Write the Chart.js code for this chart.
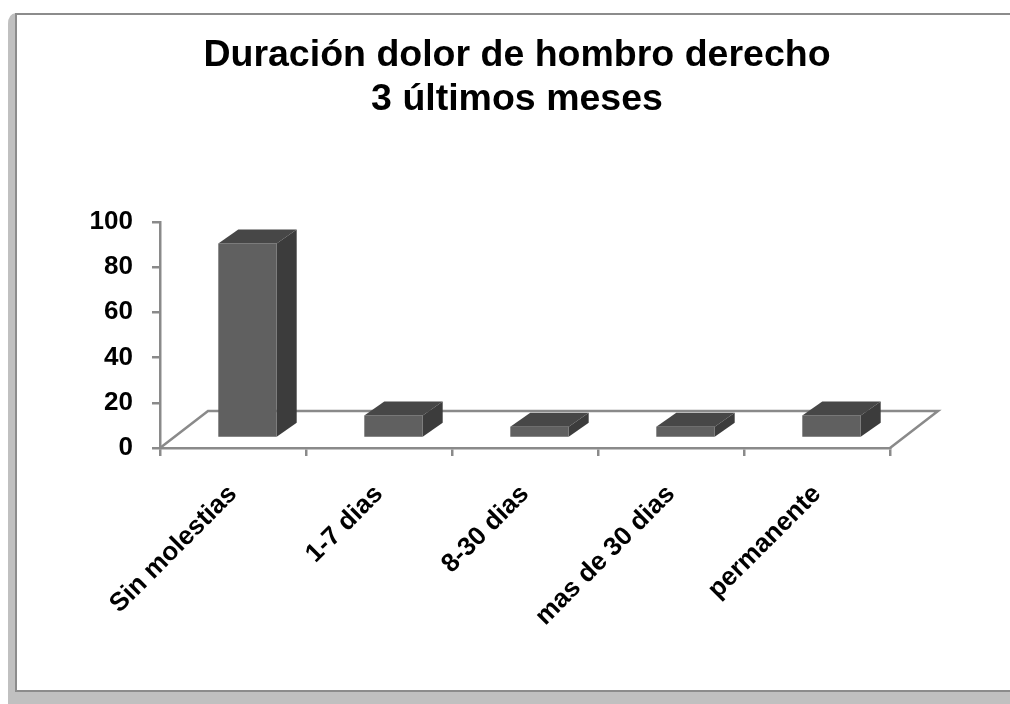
<!DOCTYPE html>
<html>
<head>
<meta charset="utf-8">
<script src="https://cdn.jsdelivr.net/npm/chart.js@4.4.1/dist/chart.umd.min.js"></script>
<style>
  html, body { margin: 0; padding: 0; background: #ffffff; }
  #wrap { width: 1010px; height: 704px; position: relative; }
</style>
</head>
<body>
<div id="wrap"><canvas id="c" width="1010" height="704"></canvas></div>
<script>
const categories = ['Sin molestias', '1-7 dias', '8-30 dias', 'mas de 30 dias', 'permanente'];
const values = [86, 10, 5, 5, 10];
const yTicks = [0, 20, 40, 60, 80, 100];
const titleLines = ['Duración dolor de hombro derecho', '3 últimos meses'];

const FONT = "'Liberation Sans', Arial, sans-serif";
const AXIS_GRAY = '#8a8a8a';

const framePlugin = {
  id: 'frame',
  beforeDraw(chart) {
    const ctx = chart.ctx;
    ctx.save();
    ctx.fillStyle = '#ffffff';
    ctx.fillRect(0, 0, 1010, 704);
    ctx.fillStyle = '#c0c0c0';
    ctx.beginPath();
    ctx.moveTo(8, 24);
    ctx.quadraticCurveTo(8, 14, 16, 13);
    ctx.lineTo(1010, 13);
    ctx.lineTo(1010, 704);
    ctx.lineTo(8, 704);
    ctx.closePath();
    ctx.fill();
    ctx.fillStyle = '#8c8c8c';
    ctx.fillRect(15, 13, 995, 679);
    ctx.fillStyle = '#ffffff';
    ctx.fillRect(17, 15, 993, 675);
    ctx.restore();
  }
};

const bar3dPlugin = {
  id: 'bar3d',
  beforeDatasetsDraw(chart) {
    const ctx = chart.ctx;
    const xs = chart.scales.x, ys = chart.scales.y;
    const y0 = ys.getPixelForValue(0);
    const dx = 48, dy = -37;
    ctx.save();
    ctx.strokeStyle = AXIS_GRAY;
    ctx.lineWidth = 2.5;
    ctx.beginPath();
    ctx.moveTo(xs.left, y0);
    ctx.lineTo(xs.left + dx, y0 + dy);
    ctx.lineTo(xs.right + dx, y0 + dy);
    ctx.lineTo(xs.right, y0);
    ctx.stroke();
    ctx.restore();
  },
  afterDatasetsDraw(chart) {
    const ctx = chart.ctx;
    const meta = chart.getDatasetMeta(0);
    const sx = 14.5, sy = -10;
    const dx = 20, dy = -14;
    ctx.save();
    meta.data.forEach(bar => {
      const p = bar.getProps(['x', 'y', 'base', 'width'], true);
      const l = p.x - p.width / 2 + sx, r = p.x + p.width / 2 + sx;
      const t = p.y + sy, b = p.base + sy;
      ctx.fillStyle = '#474747';
      ctx.beginPath();
      ctx.moveTo(l, t); ctx.lineTo(l + dx, t + dy); ctx.lineTo(r + dx, t + dy); ctx.lineTo(r, t);
      ctx.closePath(); ctx.fill();
      ctx.fillStyle = '#3c3c3c';
      ctx.beginPath();
      ctx.moveTo(r, t); ctx.lineTo(r + dx, t + dy); ctx.lineTo(r + dx, b + dy); ctx.lineTo(r, b);
      ctx.closePath(); ctx.fill();
      ctx.fillStyle = '#606060';
      ctx.fillRect(l, t, r - l, b - t);
    });
    ctx.restore();
  }
};

new Chart(document.getElementById('c'), {
  type: 'bar',
  data: {
    labels: categories,
    datasets: [{
      data: values,
      backgroundColor: 'rgba(0,0,0,0)',
      borderWidth: 0,
      barPercentage: 0.4,
      categoryPercentage: 1.0
    }]
  },
  options: {
    responsive: false,
    animation: false,
    devicePixelRatio: 1,
    layout: { padding: { left: 24, right: 0, top: 0, bottom: 0 } },
    plugins: {
      legend: { display: false },
      tooltip: { enabled: false },
      title: {
        display: true,
        text: titleLines,
        color: '#000000',
        font: { family: FONT, size: 37.5, weight: 'bold', lineHeight: 1.17 },
        padding: { top: 34, bottom: 100 }
      }
    },
    scales: {
      x: {
        offset: true,
        grid: { offset: true, drawOnChartArea: false, tickLength: 8, color: AXIS_GRAY, lineWidth: 2.5 },
        border: { display: true, color: AXIS_GRAY, width: 2.5 },
        ticks: {
          color: '#000000',
          font: { family: FONT, size: 26, weight: 'bold' },
          minRotation: 45, maxRotation: 45,
          padding: 23,
          autoSkip: false
        },
        afterFit(s) { s.height = 256; }
      },
      y: {
        min: 0, max: 100,
        afterBuildTicks(s) { s.ticks = yTicks.map(v => ({ value: v })); },
        grid: { drawOnChartArea: false, tickLength: 8, color: AXIS_GRAY, lineWidth: 2.5 },
        border: { display: true, color: AXIS_GRAY, width: 2.5 },
        ticks: {
          color: '#000000',
          font: { family: FONT, size: 26, weight: 'bold' },
          padding: 19
        },
        afterFit(s) { s.width = 136; }
      },
      yR: {
        position: 'right',
        display: true,
        grid: { display: false },
        border: { display: false },
        ticks: { display: false },
        afterFit(s) { s.width = 120; }
      }
    }
  },
  plugins: [framePlugin, bar3dPlugin]
});
</script>
</body>
</html>
